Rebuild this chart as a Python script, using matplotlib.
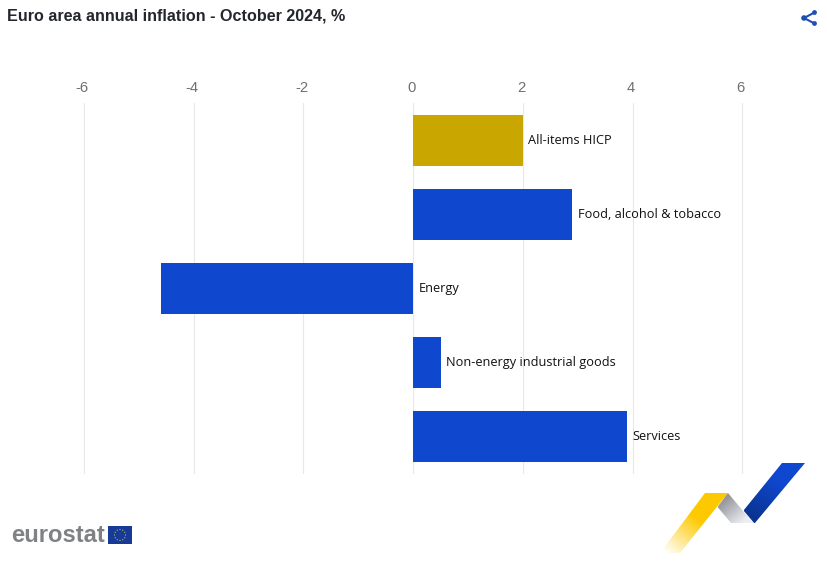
"""Euro area annual inflation bar chart."""

import numpy as np
import matplotlib

matplotlib.use("Agg")
import matplotlib.pyplot as plt
from matplotlib.patches import Polygon, Circle, Rectangle
from matplotlib.transforms import ScaledTranslation

W, H = 827, 575

categories = [
    "All-items HICP",
    "Food, alcohol & tobacco",
    "Energy",
    "Non-energy industrial goods",
    "Services",
]
values = [2.0, 2.9, -4.6, 0.5, 3.9]
bar_colors = ["#c9a600", "#0f47cf", "#0f47cf", "#0f47cf", "#0f47cf"]
ticks = [-6, -4, -2, 0, 2, 4, 6]

TITLE = "Euro area annual inflation - October 2024, %"


def hex_rgb(c):
    return np.array(matplotlib.colors.to_rgb(c))


def gradient_poly(ax, pts, start, end, p0, p1):
    # colour runs from start at p0 to end at p1
    xs = [p[0] for p in pts]
    ys = [p[1] for p in pts]
    x0, x1, y0, y1 = min(xs), max(xs), min(ys), max(ys)
    gx, gy = np.meshgrid(np.linspace(x0, x1, 80), np.linspace(y0, y1, 80))
    d = np.array(p1, float) - np.array(p0, float)
    t = ((gx - p0[0]) * d[0] + (gy - p0[1]) * d[1]) / (d @ d)
    t = np.clip(t, 0, 1)[..., None]
    img = (1 - t) * np.array(start) + t * np.array(end)
    im = ax.imshow(img, extent=(x0, x1, y1, y0), origin="upper", aspect="auto",
                   interpolation="bilinear", zorder=2)
    patch = Polygon(pts, closed=True, transform=ax.transData, fc="none", ec="none")
    ax.add_patch(patch)
    im.set_clip_path(patch)


def draw_logo(ax):
    white = hex_rgb("#ffffff")
    gradient_poly(ax, [(782, 463), (805, 463), (754.5, 523.5), (743.5, 510.5)],
                  hex_rgb("#0f47cf"), hex_rgb("#0a3490"), (775, 480), (749, 517))
    gradient_poly(ax, [(705, 493), (728, 493), (680, 553), (660, 553)],
                  hex_rgb("#fdc900"), white, (697, 518), (668, 555))
    gradient_poly(ax, [(728, 493), (753.5, 523.5), (731.5, 523.5), (717.5, 507)],
                  hex_rgb("#8f9196"), hex_rgb("#eceef4"), (722, 500), (742, 523))


def draw_share(ax):
    c = "#1f4fb5"
    a, b, d = (804, 18), (814.5, 12.5), (814.5, 23.5)
    ax.plot([b[0], a[0], d[0]], [b[1], a[1], d[1]], color=c, lw=1.5, zorder=3)
    for (x, y), r in zip([a, b, d], [2.8, 2.4, 2.4]):
        ax.add_patch(Circle((x, y), r, fc=c, ec="none", zorder=3))


def draw_eurostat(ax):
    ax.text(11.5, 536, "eurostat", family="Liberation Sans", weight="bold",
            fontsize=17.1, color="#7f8185", va="center", ha="left")
    ax.add_patch(Rectangle((108, 526), 24, 18, fc="#173a96", ec="none"))
    for a in np.arange(0, 360, 30):
        ax.add_patch(Circle((120 + 5.5 * np.cos(np.radians(a)),
                             535 + 5.5 * np.sin(np.radians(a))),
                            0.55, fc="#e8d24a", ec="none"))


fig = plt.figure(figsize=(W / 100, H / 100), dpi=100, facecolor="white")

# chart area placed in pixels: 0 sits at x=413.2, 54.85 px per unit
left, right, top, bottom = 60, 790, 103, 474
ax = fig.add_axes([left / W, 1 - bottom / H, (right - left) / W, (bottom - top) / H])
ax.set_xlim((left - 413.2) / 54.85, (right - 413.2) / 54.85)
ax.set_ylim(len(categories) - 0.5, -0.5)
ax.barh(categories, values, height=0.69, color=bar_colors, zorder=2)
ax.set_yticks([])
ax.set_xticks(ticks, [str(t) for t in ticks])
ax.xaxis.tick_top()
ax.tick_params(axis="x", length=0, pad=5.5, labelsize=10.6, labelcolor="#707070")
shift = ScaledTranslation(-2 / 100, 0, fig.dpi_scale_trans)
for lab in ax.get_xticklabels():
    lab.set_family("Liberation Sans")
    lab.set_transform(lab.get_transform() + shift)
ax.grid(axis="x", color="#e8e8e8", lw=0.8, zorder=0)
for s in ax.spines.values():
    s.set_visible(False)

for i, (name, val) in enumerate(zip(categories, values)):
    ax.annotate(name, (max(val, 0), i), xytext=(3.8, 0), textcoords="offset points",
                va="center", ha="left", fontsize=9.2, family="Open Sans", color="#111111")

# overlay in pixel coordinates for the title and the branding
ov = fig.add_axes([0, 0, 1, 1], facecolor="none")
ov.axis("off")
ov.text(7, 16, TITLE, family="Liberation Sans", weight="bold", fontsize=11.6,
        color="#23262d", va="center", ha="left")
draw_logo(ov)
draw_share(ov)
draw_eurostat(ov)
ov.set_xlim(0, W)
ov.set_ylim(H, 0)

fig.savefig("out.png", dpi=100)
plt.close(fig)
